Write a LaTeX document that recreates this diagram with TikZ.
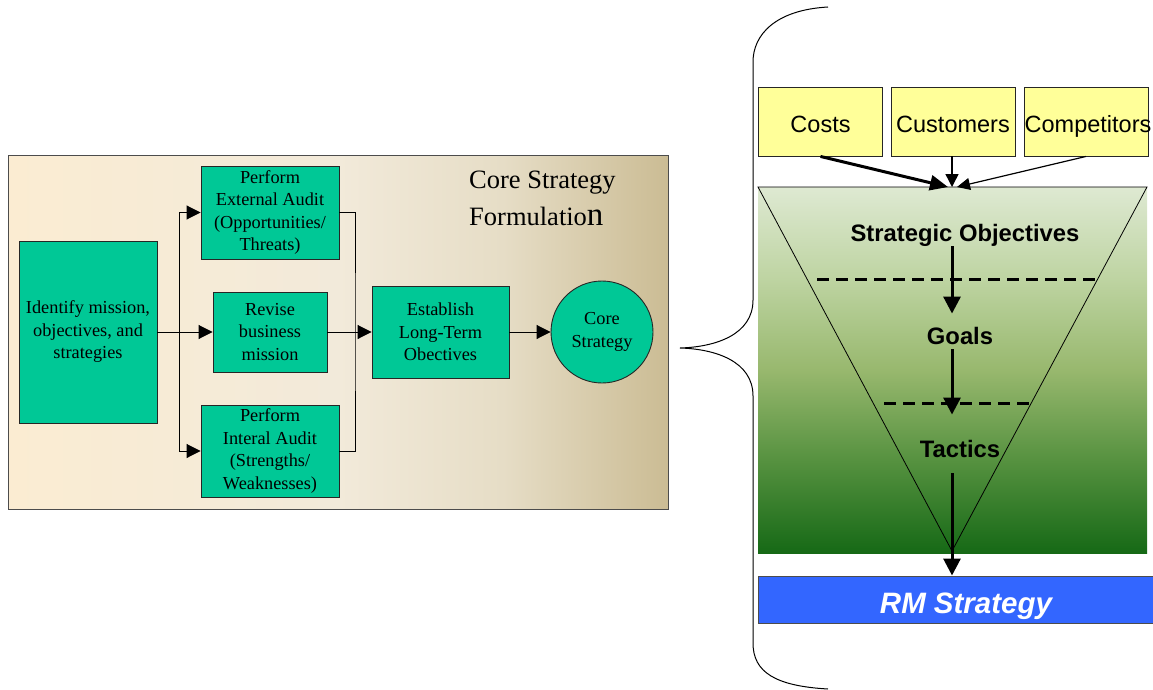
\documentclass[tikz,border=0pt]{standalone}
\usepackage{fontspec}
\setmainfont{Liberation Serif}
\newfontfamily\arialf{Liberation Sans}
\usetikzlibrary{arrows.meta}
\definecolor{boxgreen}{HTML}{00C896}
\definecolor{yellowbox}{HTML}{FFFF99}
\definecolor{rmblue}{HTML}{3366FF}
\definecolor{panA}{HTML}{FBECD2}
\definecolor{panB}{HTML}{F2EADA}
\definecolor{panC}{HTML}{E6DDC6}
\definecolor{panD}{HTML}{CBBC94}
\definecolor{gA}{HTML}{166916}
\definecolor{gB}{HTML}{55913F}
\definecolor{gC}{HTML}{98B86E}
\definecolor{gD}{HTML}{BED4A2}
\definecolor{gE}{HTML}{DEE9D2}
\pgfdeclarehorizontalshading{panelshade}{100bp}{color(0bp)=(panA); color(25bp)=(panA); color(50bp)=(panB); color(62.5bp)=(panC); color(75bp)=(panD); color(100bp)=(panD)}
\pgfdeclareverticalshading{greenshade}{100bp}{color(0bp)=(gA); color(25bp)=(gA); color(37.5bp)=(gB); color(50bp)=(gC); color(62.5bp)=(gD); color(75bp)=(gE); color(100bp)=(gE)}
\begin{document}
\begin{tikzpicture}[x=1pt,y=-1pt,
  box/.style={draw=black!85, fill=boxgreen, line width=0.9pt, inner sep=0pt, align=center, font=\fontsize{18.3}{22.5}\selectfont},
  link/.style={line width=0.9pt, -{Triangle[length=14pt,width=14pt]}},
  wire/.style={line width=0.9pt},
  ybox/.style={draw=black!85, fill=yellowbox, line width=0.9pt, inner sep=0pt, minimum width=124pt, minimum height=69pt, text height=24pt, text depth=3pt, font=\arialf\fontsize{23.5}{28}\selectfont},
  lbl/.style={font=\arialf\bfseries\fontsize{23.8}{28}\selectfont, inner sep=0pt, anchor=base},
  flow/.style={line width=3pt, -{Triangle[length=17pt,width=17pt]}},
  cut/.style={line width=3pt, dash pattern=on 12pt off 7pt},
]
\useasboundingbox (0,0) rectangle (1153,690);
\clip (0,0) rectangle (1153,690);

% ---------- left panel ----------
\shade[shading=panelshade] (8,155) rectangle (668,509);
\draw[draw=black!70, line width=1pt] (8,155) rectangle (668,509);

\node[anchor=north west, align=left, inner sep=0pt, font=\fontsize{26.5}{37}\selectfont] (title) at (469,171)
  {Core Strategy\\Formulatio{\fontsize{33}{37}\selectfont n}};

\node[box, minimum width=138pt, minimum height=182pt] (identify) at (88,332) {Identify mission,\\objectives, and\\strategies};
\node[box, minimum width=138pt, minimum height=93pt] (external) at (270,212.5) {Perform\\External Audit\\(Opportunities/\\Threats)};
\node[box, minimum width=114pt, minimum height=80pt] (revise) at (270,332) {Revise\\business\\mission};
\node[box, minimum width=138pt, minimum height=92pt] (internal) at (270,451) {Perform\\Interal Audit\\(Strengths/\\Weaknesses)};
\node[box, minimum width=137pt, minimum height=92pt] (establish) at (440.5,332) {Establish\\Long-Term\\Obectives};
\node[box, circle, minimum size=102pt] (core) at (602,332) {Core\\Strategy};

\coordinate (split) at (179,332);
\coordinate (merge) at (355,332);
\draw[link] (identify.east) -- (revise.west);
\draw[link] (split) |- (external.west);
\draw[link] (split) |- (internal.west);
\draw[wire] (external.east) -| (merge) |- (internal.east);
\draw[link] (revise.east) -- (establish.west);
\draw[link] (establish.east) -- (core.west);

% ---------- brace ----------
\draw[line width=1pt] (828,7) .. controls (775,10) and (753,35) .. (753,62) -- (753,300)
  .. controls (753,335) and (715,347) .. (680,348)
  .. controls (715,349) and (753,361) .. (753,396) -- (753,643)
  .. controls (753,672) and (775,686) .. (828,689);

% ---------- right panel ----------
\shade[shading=greenshade] (758,187) rectangle (1147,553);
\coordinate (tl) at (758,187);
\coordinate (tr) at (1147,187);
\coordinate (bot) at (952,551);
\coordinate (apex) at (952,187);
\draw[line width=0.8pt] (tl) -- (tr) -- (bot) -- cycle;

\draw[cut] (817,279) -- (1100,279);
\draw[cut] (884,403) -- (1033,403);

\node[ybox] (costs) at (820.5,121.5) {Costs};
\node[ybox] (customers) at (953,121.5) {Customers};
\node[ybox] (competitors) at (1086,121.5) {\makebox[0pt]{\hspace{4pt}Competitors}};

\draw[line width=3pt, -{Triangle[length=18pt,width=15pt]}] (costs.south) -- ([xshift=-4pt]apex);
\draw[line width=1.5pt, -{Triangle[length=13pt,width=13pt]}] (customers.south -| apex) -- (apex);
\draw[line width=1.2pt, -{Triangle[length=13pt,width=12pt]}] (competitors.south) -- ([xshift=5pt]apex);

\node[lbl] (so) at (965,241) {Strategic Objectives};
\node[lbl] (goals) at (960,344) {Goals};
\node[lbl] (tactics) at (960,457) {Tactics};

\node[draw=black!70, line width=1pt, fill=rmblue, minimum width=416pt, inner sep=0pt,
  text height=37pt, text depth=10pt,
  text=white, font=\arialf\bfseries\itshape\fontsize{29.5}{34}\selectfont] (rm) at (966,599.5) {RM Strategy};

\draw[flow, shorten >=13pt] (so.south -| bot) -- (goals.north -| bot);
\draw[flow, shorten <=5pt, shorten >=25pt] (goals.south -| bot) -- (tactics.north -| bot);
\draw[flow, shorten <=16pt] (tactics.south -| bot) -- (rm.north -| bot);
\end{tikzpicture}
\end{document}
